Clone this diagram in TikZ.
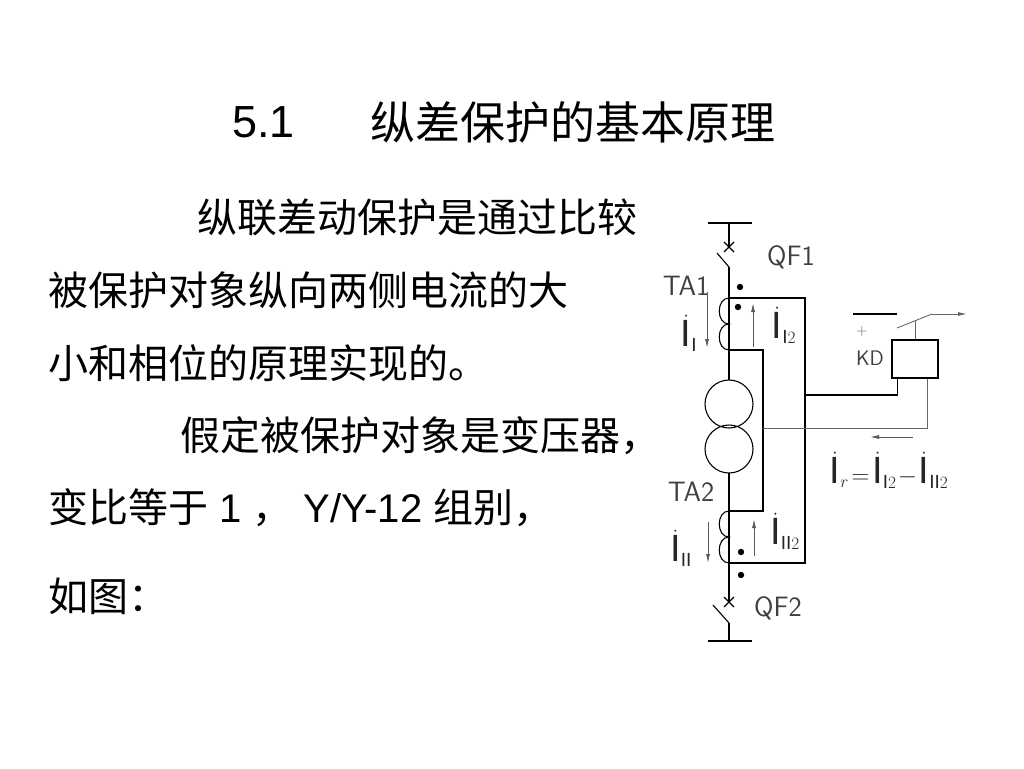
\documentclass[tikz,border=0pt]{standalone}
\usepackage{fontspec}
\setmainfont{Liberation Sans}
\newfontfamily\cjk{Noto Sans CJK SC}
\usetikzlibrary{arrows.meta,positioning}

\begin{document}
\begin{tikzpicture}[x=1pt,y=-1pt]

  \tikzset{
    wire/.style = {line width=1.1pt},
    lead/.style = {line width=0.9pt, black!60},
    curr/.style = {line width=0.9pt, black!65, -{Latex[length=9pt,width=4pt]}},
    tag/.style  = {font=\sffamily\fontsize{28}{28}\selectfont\addfontfeature{LetterSpace=14},
                   text=black!75, inner sep=0pt},
    cur/.style  = {font=\fontsize{38}{38}\selectfont, text=black!85, inner sep=0pt},
    body/.style = {font=\fontsize{40}{48}\selectfont, anchor=west, inner sep=0pt},
    head/.style = {body, font=\fontsize{45}{54}\selectfont}}
  \useasboundingbox (0,0) rectangle (1024,768);

  % text
  \node[head] (num)   at (232,122) {5.1};
  \node[head] (title) at (370,122) {\cjk 纵差保护的基本原理};
  \node[body] (l1) at (197,217) {\cjk 纵联差动保护是通过比较};
  \node[body] (l2) at (48,290)  {\cjk 被保护对象纵向两侧电流的大};
  \node[body] (l3) at (48,363)  {\cjk 小和相位的原理实现的。};
  \node[body] (l4) at (180,436) {\cjk 假定被保护对象是变压器，};
  \node[body] (l5) at (48,508)  {{\cjk 变比等于} 1 {\cjk ，} Y/Y-12 {\cjk 组别，}};
  \node[body] (l6) at (48,596)  {\cjk 如图：};

  % main circuit
  \coordinate (bt)  at (729,223);
  \coordinate (q1)  at (729,247);
  \coordinate (q1b) at (729,267);
  \coordinate (c1t) at (729,298);
  \coordinate (c1m) at (729,324);
  \coordinate (c1b) at (729,350);
  \coordinate (t1)  at (729,404);
  \coordinate (t2)  at (729,449);
  \coordinate (c2t) at (729,511);
  \coordinate (c2m) at (729,537);
  \coordinate (c2b) at (729,563);
  \coordinate (q2)  at (729,602);
  \coordinate (q2b) at (729,623);
  \coordinate (bb)  at (729,641);
  \coordinate (o1)  at (805,298);
  \coordinate (o2)  at (805,563);
  \coordinate (i1)  at (763,350);
  \coordinate (i2)  at (763,511);
  \coordinate (ja)  at (805,395);
  \coordinate (jb)  at (763,428);

  \draw[wire] ([xshift=-21pt]bt) -- ([xshift=23pt]bt);
  \draw[wire] ([xshift=-21pt]bb) -- ([xshift=23pt]bb);
  \draw[wire] (bt) -- (q1) (q1b) -- (729,380) (729,473) -- (q2) (q2b) -- (bb);
  \draw[wire] (q1b) -- (717,253) (q2b) -- (713,605);
  \draw[wire] ([shift={(-5pt,-5pt)}]q1) -- ([shift={(5pt,5pt)}]q1)
              ([shift={(-5pt,5pt)}]q1) -- ([shift={(5pt,-5pt)}]q1);
  \draw[wire] ([shift={(-5pt,-5pt)}]q2) -- ([shift={(5pt,5pt)}]q2)
              ([shift={(-5pt,5pt)}]q2) -- ([shift={(5pt,-5pt)}]q2);
  \draw[wire] (t1) circle[radius=24pt] (t2) circle[radius=24pt];
  \draw[wire] (c1t) .. controls (716,298) and (716,324) .. (c1m)
                    .. controls (716,324) and (716,350) .. (c1b);
  \draw[wire] (c2t) .. controls (716,511) and (716,537) .. (c2m)
                    .. controls (716,537) and (716,563) .. (c2b);
  \draw[wire] (c1t) -- (o1) -- (o2) -- (c2b);
  \draw[wire] (c1b) -- (i1) -- (i2) -- (c2t);
  \foreach \p in {(740,287),(738,307),(741,552),(741,575)}
    \fill \p circle[radius=3.2pt];

  % relay
  \node[draw, wire, minimum width=46pt, minimum height=38pt, inner sep=0pt] (kd) at (915,359) {};
  \draw[wire] (ja) -| ([xshift=6pt]kd.south west);
  \draw[lead] (jb) -| ([xshift=-11pt]kd.south east);
  \draw[lead] (kd.north) -- ++(0,-18);
  \draw[lead] (897,328) -- (932,314);
  \draw[lead, -{Latex[length=9pt,width=4pt]}] (932,314) -- (967,314);
  \draw[wire] (853,314) -- (897,314);
  \node[font=\sffamily\fontsize{16}{16}\selectfont, text=black!60, inner sep=0pt] (plus) at (862,332) {+};
  \node[tag, font=\sffamily\fontsize{21}{21}\selectfont] (kdl) at (870,358) {KD};

  % labels
  \node[tag] (qf1) at (791,257) {QF1};
  \node[tag] (ta1) at (686,286) {TA1};
  \node[tag] (ta2) at (691,492) {TA2};
  \node[tag] (qf2) at (778,608) {QF2};

  % currents
  \draw[curr] (707,292) -- (707,348);
  \draw[curr] (753,347) -- (753,303);
  \draw[curr] (708,522) -- (708,563);
  \draw[curr] (754,556) -- (754,519);
  \draw[curr] (913,437) -- (870,437);
  \node[cur] (ia)  at (689,333) {$\dot{\mathrm I}_{\scriptscriptstyle\mathrm{I}}$};
  \node[cur] (ia2) at (784,325) {$\dot{\mathrm I}_{\scriptscriptstyle\mathrm{I}2}$};
  \node[cur] (ib)  at (681,548) {$\dot{\mathrm I}_{\scriptscriptstyle\mathrm{II}}$};
  \node[cur] (ib2) at (785,531) {$\dot{\mathrm I}_{\scriptscriptstyle\mathrm{II}2}$};
  \node[cur] (ir)  at (889,470)
    {$\dot{\mathrm I}_{\scriptscriptstyle r}\!=\!\dot{\mathrm I}_{\scriptscriptstyle\mathrm{I}2}\!-\!\dot{\mathrm I}_{\scriptscriptstyle\mathrm{II}2}$};

\end{tikzpicture}
\end{document}
